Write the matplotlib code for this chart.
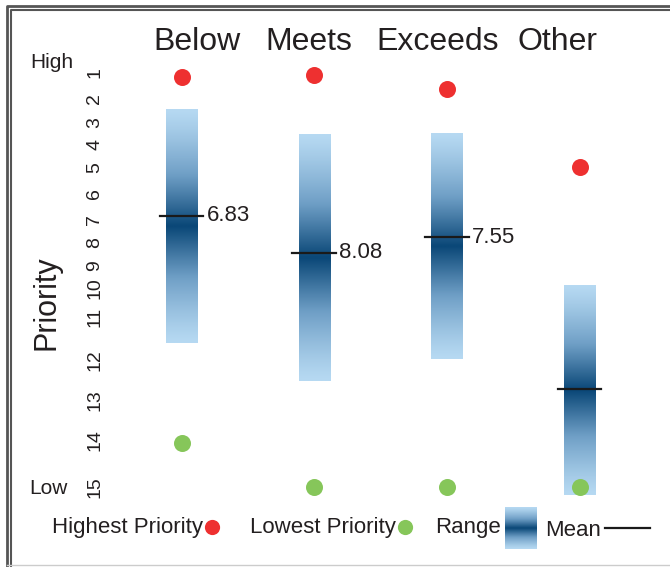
import numpy as np
import matplotlib
matplotlib.use("Agg")
from matplotlib import pyplot as plt
from matplotlib.colors import LinearSegmentedColormap

plt.rcParams['font.family'] = ['Liberation Sans', 'DejaVu Sans']

# data (priority scale as drawn in the original; its tick labels are hand placed)
categories = ['Below', 'Meets', 'Exceeds', 'Other']
highest = [2.13, 2.06, 2.53, 5.18]
lowest = [14.51, 16.0, 16.0, 16.0]
range_top = [3.22, 4.10, 4.03, 9.20]
range_bottom = [11.13, 12.42, 11.67, 16.27]
means = [6.83, 8.08, 7.55, 12.70]
mean_labels = ['6.83', '8.08', '7.55', '']
tick_labels = [str(i) for i in range(1, 16)]
tick_pos = [2.0, 2.85, 3.66, 4.43, 5.21, 6.06, 6.97, 7.72, 8.53, 9.28,
            10.25, 11.71, 13.06, 14.41, 16.0]

W, H = 670, 567
TXT = '#231f20'
RED = '#ee3030'
GREEN = '#86c65a'
cmap = LinearSegmentedColormap.from_list('rng', ['#b6d9f2', '#6f9fc6', '#0b4878'])

fig = plt.figure(figsize=(W / 100, H / 100), dpi=100)

def fx(x):
    return x / W

def fy(y):
    return 1 - y / H

ax = fig.add_axes([fx(110), fy(500), 550 / W, 440 / H])
for s in ax.spines.values():
    s.set_visible(False)
ax.set_xticks([])
ax.set_yticks(tick_pos, labels=tick_labels, rotation=90, fontsize=14,
              color=TXT, va='center')
ax.tick_params(axis='y', length=0, pad=5)

grad = (1 - np.abs(np.linspace(-1, 1, 200))[:, None]) ** 1.2
bw = 0.234
for i in range(len(categories)):
    ax.imshow(grad, cmap=cmap, aspect='auto', interpolation='bilinear',
              extent=[i - bw / 2, i + bw / 2, range_bottom[i], range_top[i]],
              zorder=1)
    ax.plot([i - 0.165, i + 0.165], [means[i], means[i]], color='#1a1a1a',
            lw=1.6, zorder=3)
    if mean_labels[i]:
        ax.text(i + 0.19, means[i], mean_labels[i], fontsize=16, color=TXT,
                ha='left', va='center')
x = np.arange(len(categories))
ax.scatter(x, highest, s=150, color=RED, zorder=4, linewidths=0)
ax.scatter(x, lowest, s=150, color=GREEN, zorder=4, linewidths=0)
ax.set_xlim(-0.539, 3.606)
ax.set_ylim(16.44, 1.56)

# category titles
title_x = [197, 308.5, 437.5, 557.5]
for name, tx in zip(categories, title_x):
    fig.text(fx(tx), fy(42), name, fontsize=23, color=TXT, ha='center', va='center')

fig.text(fx(52), fy(62), 'High', fontsize=15, color=TXT, ha='center', va='center')
fig.text(fx(48), fy(488), 'Low', fontsize=15, color=TXT, ha='center', va='center')
fig.text(fx(47), fy(303), 'Priority', fontsize=22, color=TXT, rotation=90,
         ha='center', va='center')

# legend + frame on an overlay axes in pixel units
lg = fig.add_axes([0, 0, 1, 1], zorder=-1)
lg.axis('off')
lg.text(52, 527, 'Highest Priority', fontsize=16, color=TXT, ha='left', va='center')
lg.scatter([212], [527], s=120, color=RED, linewidths=0)
lg.text(250, 527, 'Lowest Priority', fontsize=16, color=TXT, ha='left', va='center')
lg.scatter([405], [527], s=120, color=GREEN, linewidths=0)
lg.text(435, 527, 'Range', fontsize=16, color=TXT, ha='left', va='center')
lg.imshow(grad, cmap=cmap, aspect='auto', interpolation='bilinear',
          extent=[505, 537, 549, 507])
lg.text(545, 530, 'Mean', fontsize=16, color=TXT, ha='left', va='center')
lg.plot([605, 650], [528, 528], color='#1a1a1a', lw=1.6)
lg.plot([7, 7, W], [H, 6, 6], color='#555555', lw=2)
lg.plot([11, 11, W], [H, 10, 10], color='#555555', lw=1.5)
lg.plot([7, W], [565, 565], color='#cccccc', lw=1)
lg.set_xlim(0, W)
lg.set_ylim(H, 0)

fig.savefig('out.png', dpi=100)
